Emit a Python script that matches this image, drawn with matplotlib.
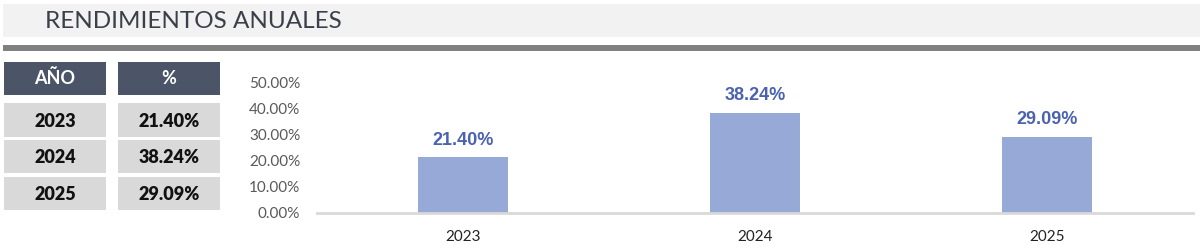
import matplotlib
matplotlib.use("Agg")
import matplotlib.pyplot as plt
from matplotlib.patches import Rectangle
from matplotlib.ticker import FuncFormatter

# Data
years = ["2023", "2024", "2025"]
returns_pct = [21.40, 38.24, 29.09]
title = "RENDIMIENTOS ANUALES"
header_year = "AÑO"
header_pct = "%"

W, H = 1200, 252
fig = plt.figure(figsize=(W / 100, H / 100), dpi=100)
fig.patch.set_facecolor("white")


def px_rect(x0, y0, x1, y1, color):
    """Rectangle given in pixel coordinates measured from the top-left corner."""
    fig.patches.append(Rectangle((x0 / W, 1 - y1 / H), (x1 - x0) / W, (y1 - y0) / H,
                                 transform=fig.transFigure, facecolor=color,
                                 edgecolor="none", zorder=0))


def px_text(x, y, s, **kw):
    fig.text(x / W, 1 - y / H, s, **kw)


# Title band and separator
px_rect(3, 4, 1200, 37, "#f2f2f2")
px_rect(3, 45, 1200, 51, "#808080")
px_text(45, 21, title, fontsize=17.5, family="Lato", color="#3a3f4a",
        ha="left", va="center")

# Summary table
col_x = [(4, 106), (118, 220)]
header_y = (62, 95)
row_y = [(103, 137), (140, 173), (177, 210)]
for (x0, x1), label in zip(col_x, [header_year, header_pct]):
    px_rect(x0, header_y[0], x1, header_y[1], "#4b5567")
    px_text((x0 + x1) / 2, (header_y[0] + header_y[1]) / 2, label, fontsize=13,
            family="Lato", weight="bold", color="white", ha="center", va="center")
for (y0, y1), yr, val in zip(row_y, years, returns_pct):
    for (x0, x1), s in zip(col_x, [yr, f"{val:.2f}%"]):
        px_rect(x0, y0, x1, y1, "#d9d9d9")
        px_text((x0 + x1) / 2, (y0 + y1) / 2 + 1, s, fontsize=13, family="Lato",
                weight="heavy", color="#111111", ha="center", va="center")

# Bar chart
ax_left, ax_right, ax_bottom, ax_top = 317, 1193, 213, 82
ax = fig.add_axes([ax_left / W, 1 - ax_bottom / H,
                   (ax_right - ax_left) / W, (ax_bottom - ax_top) / H])
ax.set_facecolor("none")
x = range(len(years))
bars = ax.bar(x, returns_pct, width=0.31, color="#97a9d6", zorder=2)
ax.set_xlim(-0.5, len(years) - 0.5)
ax.set_ylim(0, 50)
ax.set_yticks([0, 10, 20, 30, 40, 50])
ax.yaxis.set_major_formatter(FuncFormatter(lambda v, _: f"{v:.2f}%"))
ax.set_xticks(list(x))
ax.set_xticklabels(years)

for side in ["top", "right", "left"]:
    ax.spines[side].set_visible(False)
ax.spines["bottom"].set_color("#d9d9d9")
ax.spines["bottom"].set_linewidth(2)
ax.spines["bottom"].set_zorder(3)
ax.tick_params(axis="both", length=0)
ax.tick_params(axis="y", pad=12, labelsize=11, labelcolor="#595959")
ax.tick_params(axis="x", pad=12, labelsize=11, labelcolor="#222222")
for lbl in ax.get_yticklabels() + ax.get_xticklabels():
    lbl.set_family("Lato")

for b, v in zip(bars, returns_pct):
    ax.annotate(f"{v:.2f}%", (b.get_x() + b.get_width() / 2, v),
                xytext=(0, 6), textcoords="offset points", ha="center", va="bottom",
                fontsize=13, weight="bold", family="Liberation Sans", color="#4a62b0")

fig.savefig("out.png", dpi=100)
